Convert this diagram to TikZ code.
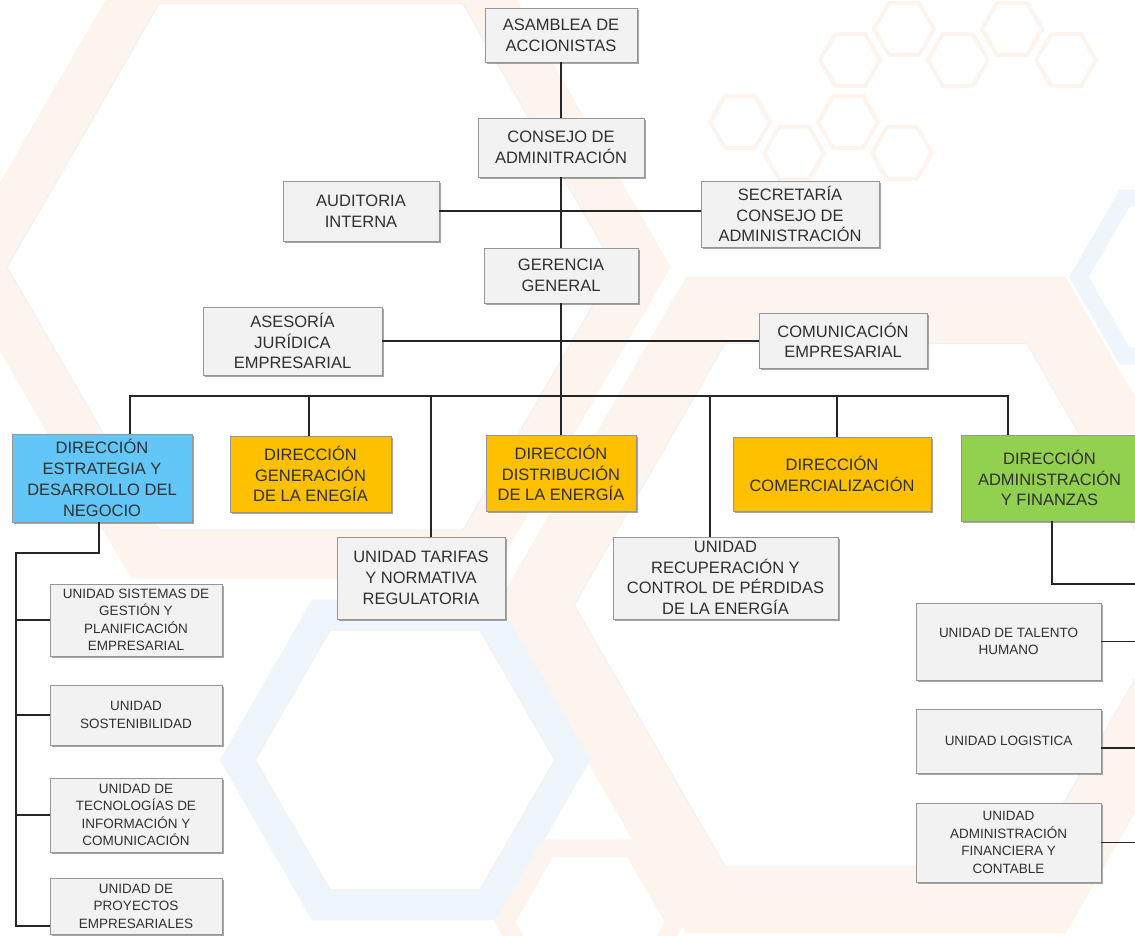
\documentclass[tikz,border=0pt]{standalone}
\usepackage{fontspec}
\setmainfont{Liberation Sans}
\usetikzlibrary{shadows,calc}
\definecolor{peach}{RGB}{253,245,237}
\definecolor{paleblue}{RGB}{238,246,252}
\definecolor{boxgray}{RGB}{242,242,242}
\definecolor{boxborder}{RGB}{150,150,150}
\definecolor{dirblue}{RGB}{98,198,248}
\definecolor{dirorange}{RGB}{255,192,0}
\definecolor{dirgreen}{RGB}{146,208,80}
\definecolor{txt}{RGB}{48,48,48}
\definecolor{linec}{RGB}{38,38,38}
\newcommand\hexag[4]{\path[#4] ({#1+#3},#2) -- ({#1+#3/2},{#2+0.866*#3}) -- ({#1-#3/2},{#2+0.866*#3}) -- ({#1-#3},#2) -- ({#1-#3/2},{#2-0.866*#3}) -- ({#1+#3/2},{#2-0.866*#3}) -- cycle;}
\newcommand\bx[7]{\node[#6, minimum width={#4-#2}, minimum height={#5-#3}] (#1) at ({(#2+#4)/2},{(#3+#5)/2}) {#7};}
\tikzset{
  box/.style={draw=boxborder, line width=0.7pt, inner sep=0pt, align=center, text=txt,
    font=\fontsize{16.5}{20.8}\selectfont,
    drop shadow={shadow xshift=1.6pt, shadow yshift=-1.8pt, opacity=0.5, fill=black!70}},
  gbox/.style={box, fill=boxgray},
  sbox/.style={gbox, font=\fontsize{13.5}{17.5}\selectfont},
  bbox/.style={box, fill=dirblue},
  obox/.style={box, fill=dirorange},
  vbox/.style={box, fill=dirgreen},
  conn/.style={draw=linec, line width=1.6pt},
}
\begin{document}
\begin{tikzpicture}[x=1pt,y=-1pt]
\useasboundingbox (0,0) rectangle (1135,936);
% ---------- background ----------
\fill[white] (0,0) rectangle (1135,936);
\hexag{311}{267}{332}{draw=peach, line width=48}
\hexag{876}{605}{341}{draw=peach, line width=66}
\hexag{405}{760}{168}{draw=paleblue, line width=30}
\hexag{1170}{277}{91}{draw=paleblue, line width=17}
\hexag{590}{922}{85}{draw=peach, line width=18}
\hexag{311}{267}{304}{draw=black!5, line width=1.5}
\hexag{876}{605}{302}{draw=black!5, line width=1.5}
\hexag{405}{760}{150}{draw=black!5, line width=1.5}
\foreach \cx/\cy in {850/60, 904/29, 958/60, 1012/29, 1066/60, 740/122, 794/153, 848/122, 902/153}{
  \hexag{\cx}{\cy}{30}{draw=peach, line width=4}
}
% ---------- boxes ----------
\bx{asam}{485}{8}{637}{62}{gbox}{ASAMBLEA DE\\ACCIONISTAS}
\bx{cons}{478}{118}{644}{177}{gbox}{CONSEJO DE\\ADMINITRACIÓN}
\bx{aud}{283}{181}{439}{241}{gbox}{AUDITORIA\\INTERNA}
\bx{sec}{701}{181}{879}{247}{gbox}{SECRETARÍA\\CONSEJO DE\\ADMINISTRACIÓN}
\bx{ger}{484}{248}{638}{303}{gbox}{GERENCIA\\GENERAL}
\bx{ase}{203}{307}{382}{375}{gbox}{ASESORÍA\\JURÍDICA\\EMPRESARIAL}
\bx{com}{759}{313}{927}{368}{gbox}{COMUNICACIÓN\\EMPRESARIAL}
\bx{estr}{12}{434}{192}{522}{bbox}{DIRECCIÓN\\ESTRATEGIA Y\\DESARROLLO DEL\\NEGOCIO}
\bx{gen}{230}{436}{391}{512}{obox}{DIRECCIÓN\\GENERACIÓN\\DE LA ENEGÍA}
\bx{dist}{486}{435}{636}{511}{obox}{DIRECCIÓN\\DISTRIBUCIÓN\\DE LA ENERGÍA}
\bx{comer}{733}{437}{931}{511}{obox}{DIRECCIÓN\\COMERCIALIZACIÓN}
\bx{adm}{961}{435}{1138}{521}{vbox}{DIRECCIÓN\\ADMINISTRACIÓN\\Y FINANZAS}
\bx{tar}{337}{537}{505}{619}{gbox}{UNIDAD TARIFAS\\Y NORMATIVA\\REGULATORIA}
\bx{rec}{613}{537}{838}{619}{gbox}{UNIDAD\\RECUPERACIÓN Y\\CONTROL DE PÉRDIDAS\\DE LA ENERGÍA}
\bx{sis}{50}{584}{222}{656}{sbox}{UNIDAD SISTEMAS DE\\GESTIÓN Y\\PLANIFICACIÓN\\EMPRESARIAL}
\bx{sos}{50}{685}{222}{745}{sbox}{UNIDAD\\SOSTENIBILIDAD}
\bx{tec}{50}{778}{222}{852}{sbox}{UNIDAD DE\\TECNOLOGÍAS DE\\INFORMACIÓN Y\\COMUNICACIÓN}
\bx{pro}{50}{878}{222}{934}{sbox}{UNIDAD DE\\PROYECTOS\\EMPRESARIALES}
\bx{tal}{916}{603}{1101}{680}{sbox}{UNIDAD DE TALENTO\\HUMANO}
\bx{log}{916}{709}{1101}{773}{sbox}{UNIDAD LOGISTICA}
\bx{fin}{916}{803}{1101}{882}{sbox}{UNIDAD\\ADMINISTRACIÓN\\FINANCIERA Y\\CONTABLE}
% ---------- connectors ----------
\draw[conn] (asam.south) -- (asam.south |- cons.north);
\draw[conn] (cons.south) -- (cons.south |- ger.north);
\draw[conn] (aud.east) -- (aud.east -| sec.west);
\draw[conn] (ger.south) -- (ger.south |- dist.north);
\draw[conn] (ase.east) -- (ase.east -| com.west);
\coordinate (busL) at (130,396);
\coordinate (busR) at (1008,396);
\coordinate (bG) at (309,396);
\coordinate (bT) at (431,396);
\coordinate (bR) at (710,396);
\coordinate (bC) at (837,396);
\draw[conn] (busL |- estr.north) -- (busL) -- (busR) -- (busR |- adm.north);
\draw[conn] (bG) -- (bG |- gen.north);
\draw[conn] (bT) -- (bT |- tar.north);
\draw[conn] (bR) -- (bR |- rec.north);
\draw[conn] (bC) -- (bC |- comer.north);
\coordinate (eS) at (99,553);
\coordinate (eL) at (16,553);
\coordinate (eB) at (16,926);
\draw[conn] (eS |- estr.south) -- (eS) -- (eL) -- (eB) -- (eB -| pro.west);
\draw[conn] (eL |- sis.west) -- (sis.west);
\draw[conn] (eL |- sos.west) -- (sos.west);
\draw[conn] (eL |- tec.west) -- (tec.west);
\coordinate (aS) at (1052,584);
\coordinate (aR) at (1135,584);
\draw[conn] (aS |- adm.south) -- (aS) -- (aR);
\draw[conn] (tal.east) -- (tal.east -| aR);
\draw[conn] ($(log.east)+(0,7)$) -- ($(log.east -| aR)+(0,7)$);
\draw[conn] (fin.east) -- (fin.east -| aR);
\end{tikzpicture}
\end{document}
